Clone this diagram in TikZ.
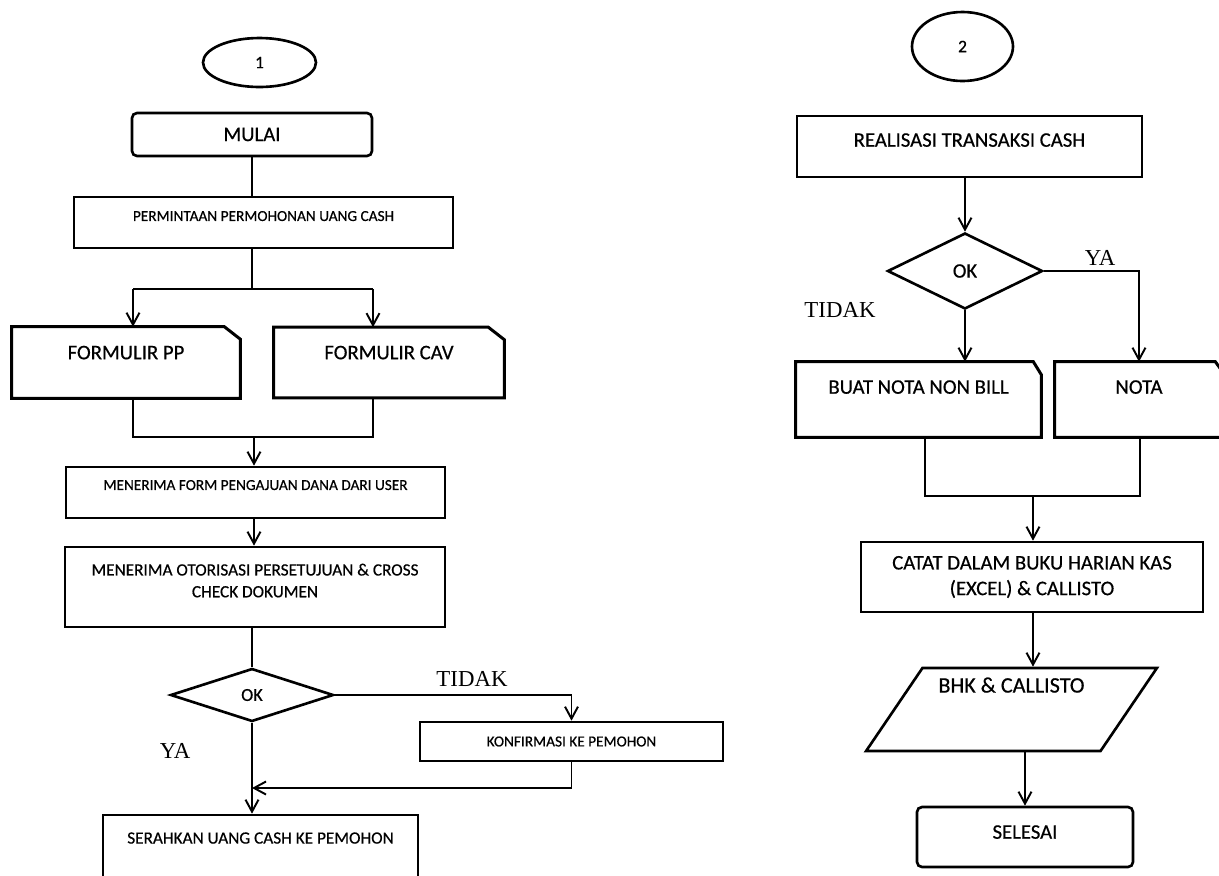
\documentclass[tikz,border=0pt]{standalone}
\usepackage{fontspec}
\newfontfamily\calibri{Carlito}[FakeBold=0.5]
\newfontfamily\serifface{Liberation Serif}
\usetikzlibrary{shapes.geometric,arrows.meta}

\begin{document}
\begin{tikzpicture}[x=0.2mm, y=-0.2mm, line width=1.1pt,
		box_style/.style={rectangle,draw=black,line width=1.5pt,inner sep=1pt,align=center,font=\calibri},
		round_style/.style={box_style,rounded corners=1mm},
		doc_style/.style 2 args={box_style,draw=none,
			append after command={\pgfextra{\draw[line width=1.7pt,line join=miter]
				(\tikzlastnode.south west) -- (\tikzlastnode.north west) -- ([xshift=-#1]\tikzlastnode.north east)
				-- ([yshift=-#2]\tikzlastnode.north east) -- (\tikzlastnode.south east) -- cycle;}}},
		io_style/.style={box_style,trapezium,trapezium left angle=55,trapezium right angle=125,trapezium stretches=true},
		decision_style/.style={diamond,draw=black,line width=1.5pt,inner sep=0pt,font=\calibri},
		connector_style/.style={ellipse,draw=black,line width=1.5pt,inner sep=0pt,font=\calibri\fontsize{10}{12}\selectfont},
		label_style/.style={font=\serifface\fontsize{13}{15}\selectfont},
		small_text/.style={font=\calibri\fontsize{8.7}{10.5}\selectfont},
		mid_text/.style={font=\calibri\fontsize{9.8}{12.4}\selectfont},
		big_text/.style={font=\calibri\fontsize{11.8}{14.6}\selectfont},
		edge_style/.style={draw=black,line width=1.1pt},
		arrow_style/.style={edge_style,-{Straight Barb[length=2.4mm,width=2.6mm,line width=1.1pt]}}]

		\useasboundingbox (0,0) rectangle (1219,875);
		\clip (0,0) rectangle (1219,875);

		\node[connector_style,minimum width=22.6mm,minimum height=9.8mm] (c1) at (259.5,62.5) {1};
		\node[round_style,big_text,minimum width=48mm,minimum height=8.6mm] (mulai) at (252,134.5) {MULAI};
		\node[box_style,small_text,minimum width=75.8mm,minimum height=10.2mm,text depth=2.6mm] (minta) at (263.5,222.5) {PERMINTAAN PERMOHONAN UANG CASH};
		\node[doc_style={3.2mm}{2.5mm},big_text,minimum width=45.2mm,minimum height=13.8mm,text depth=4mm] (pp) at (126,362.5) {FORMULIR PP};
		\node[doc_style={3.2mm}{2.5mm},big_text,minimum width=45.6mm,minimum height=13.6mm,text depth=4mm] (cav) at (389,362.5) {FORMULIR CAV};
		\node[box_style,small_text,minimum width=75.8mm,minimum height=10.2mm,text depth=3mm] (terima) at (255.5,492.5) {MENERIMA FORM PENGAJUAN DANA DARI USER};
		\node[box_style,mid_text,minimum width=76mm,minimum height=16mm,text depth=2.6mm] (otor) at (255,587) {MENERIMA OTORISASI PERSETUJUAN \& CROSS\\CHECK DOKUMEN};
		\node[decision_style,font=\calibri\fontsize{10.4}{12}\selectfont,minimum width=32.6mm,minimum height=10.6mm] (ok1) at (252,695) {OK};
		\node[box_style,small_text,minimum width=60.6mm,minimum height=7.8mm] (konf) at (571.5,741.5) {KONFIRMASI KE PEMOHON};
		\node[box_style,mid_text,minimum width=63mm,minimum height=14mm,text depth=4.8mm] (serah) at (260.5,850) {SERAHKAN UANG CASH KE PEMOHON};

		\node[label_style] (tidak1) at (472,679) {TIDAK};
		\node[label_style] (ya1) at (175,751) {YA};

		\node[connector_style,minimum width=20.2mm,minimum height=13.8mm] (c2) at (962.5,46.5) {2};
		\node[box_style,big_text,minimum width=69mm,minimum height=12.2mm,text depth=2.6mm] (real) at (969.5,146.5) {REALISASI TRANSAKSI CASH};
		\node[decision_style,font=\calibri\fontsize{11.7}{14}\selectfont,minimum width=31mm,minimum height=15.2mm] (ok2) at (965,271) {OK};
		\node[doc_style={1.6mm}{2.6mm},big_text,minimum width=48.6mm,minimum height=14.6mm,text depth=5mm] (nonbill) at (918.5,399.5) {BUAT NOTA NON BILL};
		\node[doc_style={1.6mm}{2.2mm},big_text,minimum width=33.2mm,minimum height=14.6mm,text depth=5mm] (nota) at (1139,399.5) {NOTA};
		\node[box_style,big_text,minimum width=68.4mm,minimum height=14mm] (catat) at (1032,577) {CATAT DALAM BUKU HARIAN KAS\\(EXCEL) \& CALLISTO};
		\node[io_style,font=\calibri\fontsize{12.6}{15}\selectfont,minimum width=58.2mm,minimum height=16.6mm,text depth=9.8mm] (bhk) at (1011.5,709.5) {BHK \& CALLISTO};
		\node[round_style,big_text,minimum width=43.2mm,minimum height=12mm,text depth=2mm] (selesai) at (1025,837) {SELESAI};

		\node[label_style] (ya2) at (1100,258) {YA};
		\node[label_style] (tidak2) at (840,310) {TIDAK};

		\coordinate (split) at (252,289);
		\coordinate (splitL) at (133,289);
		\coordinate (splitR) at (373,289);
		\coordinate (joinL) at (133,437);
		\coordinate (joinR) at (373,437);
		\coordinate (join) at (254,437);
		\coordinate (back) at (252,788);
		\coordinate (join2L) at (925,496);
		\coordinate (join2R) at (1140,496);
		\coordinate (join2) at (1033,496);

		\draw[edge_style]  (mulai.south) -- (mulai.south |- minta.north);
		\draw[edge_style]  (minta.south -| split) -- (split);
		\draw[edge_style]  (splitL) -- (splitR);
		\draw[arrow_style] (splitL) -- (splitL |- pp.north);
		\draw[arrow_style] (splitR) -- (splitR |- cav.north);
		\draw[edge_style]  (pp.south -| joinL) -- (joinL) -- (joinR) -- (cav.south -| joinR);
		\draw[arrow_style] (join) -- (join |- terima.north);
		\draw[arrow_style] (terima.south -| join) -- (otor.north -| join);
		\draw[edge_style]  (otor.south -| ok1) -- (ok1.north);
		\draw[arrow_style] (ok1.east) -| (konf.north);
		\draw[arrow_style] (konf.south) |- (back);
		\draw[arrow_style] (ok1.south) -- (ok1.south |- serah.north);

		\draw[arrow_style] (real.south -| ok2) -- (ok2.north);
		\draw[arrow_style] (ok2.east) -| (nota.north);
		\draw[arrow_style] (ok2.south) -- (ok2.south |- nonbill.north);
		\draw[edge_style]  (nonbill.south -| join2L) -- (join2L) -- (join2R) -- (nota.south -| join2R);
		\draw[arrow_style] (join2) -- (join2 |- catat.north);
		\draw[arrow_style] (catat.south -| join2) -- (join2 |- bhk.north);
		\draw[arrow_style] (selesai.north |- bhk.south) -- (selesai.north);
\end{tikzpicture}
\end{document}
